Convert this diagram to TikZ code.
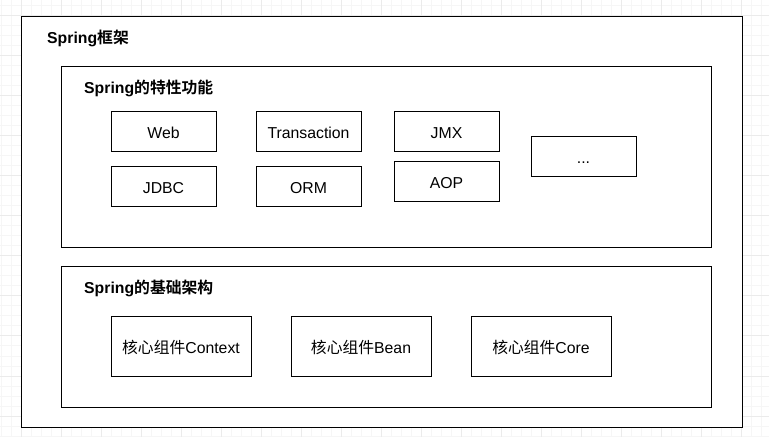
\documentclass[tikz,border=0pt]{standalone}
\usepackage{fontspec}
\setmainfont{Liberation Sans}
\newfontfamily\cjk[BoldFont={Noto Sans CJK SC Bold}]{Noto Sans CJK SC}
\definecolor{gridminor}{HTML}{F6F6F6}
\definecolor{gridmajor}{HTML}{EBEBEB}
\begin{document}
\begin{tikzpicture}[x=1bp,y=-1bp,
  box/.style={draw=black, line width=1bp, fill=white, inner sep=0pt},
  txt/.style={font=\fontsize{15.8bp}{19bp}\selectfont, text height=13.5bp, text depth=0bp},
  item/.style={box, txt, minimum width=105bp, minimum height=40bp},
  core/.style={box, txt, minimum width=140bp, minimum height=60bp},
  title/.style={anchor=west, inner sep=0pt, font=\fontsize{15.8bp}{19bp}\selectfont\bfseries}]
\useasboundingbox (0,0) rectangle (769,437);
% background grid
\foreach \x in {1,11,...,761} \draw[gridminor, line width=1bp] (\x,0) -- (\x,437);
\foreach \y in {6,16,...,436} \draw[gridminor, line width=1bp] (0,\y) -- (769,\y);
\foreach \x in {21,61,...,741} \draw[gridmajor, line width=1bp] (\x,0) -- (\x,437);
\foreach \y in {16,56,...,416} \draw[gridmajor, line width=1bp] (0,\y) -- (769,\y);
% containers
\node[box, anchor=north west, minimum width=721bp, minimum height=410bp] (outer) at (21,16.5) {};
\node[title] (outert) at (47,38.5) {Spring{\cjk 框架}};
\node[box, anchor=north west, minimum width=650bp, minimum height=180bp] (feat) at (61,66.5) {};
\node[title] (featt) at (84,88.5) {Spring{\cjk 的特性功能}};
\node[box, anchor=north west, minimum width=650bp, minimum height=140bp] (base) at (61,266.5) {};
\node[title] (baset) at (84,288.5) {Spring{\cjk 的基础架构}};
% feature items
\node[item] (web) at (163.5,131.5) {Web};
\node[item] (tx) at (308.5,131.5) {Transaction};
\node[item] (jmx) at (446.5,131.5) {JMX};
\node[item] (more) at (583.5,156.5) {...};
\node[item] (jdbc) at (163.5,186.5) {JDBC};
\node[item] (orm) at (308.5,186.5) {ORM};
\node[item] (aop) at (446.5,181.5) {AOP};
% core components
\node[core] (ctx) at (181,346.5) {{\cjk 核心组件}Context};
\node[core] (bean) at (361,346.5) {{\cjk 核心组件}Bean};
\node[core] (cor) at (541,346.5) {{\cjk 核心组件}Core};
\end{tikzpicture}
\end{document}
